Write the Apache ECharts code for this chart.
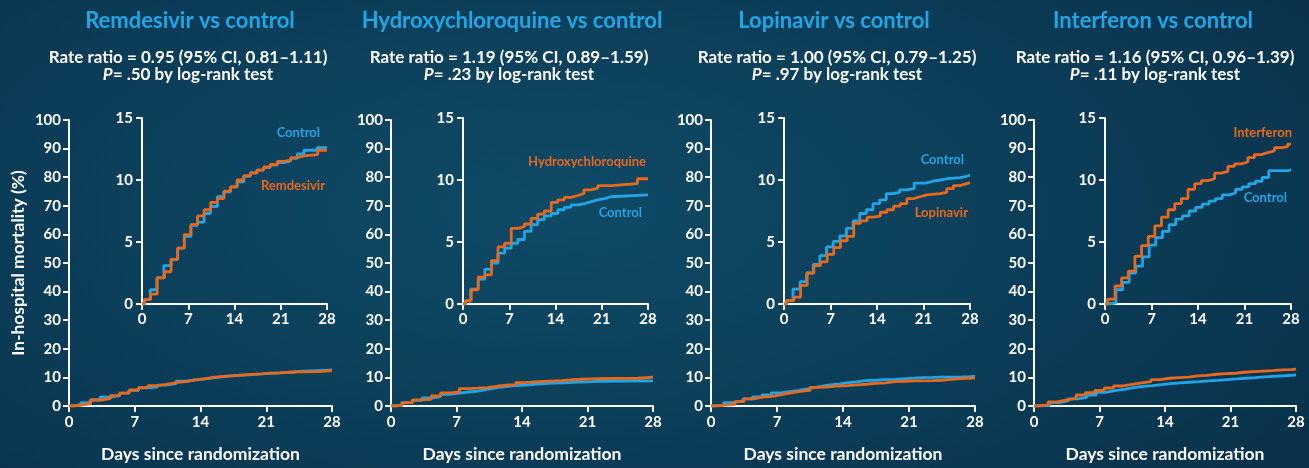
<!DOCTYPE html>
<html>
<head>
<meta charset="utf-8">
<script src="https://cdn.jsdelivr.net/npm/echarts@6/dist/echarts.min.js"></script>
<style>
html,body{margin:0;padding:0;width:1309px;height:468px;overflow:hidden;
background:radial-gradient(ellipse 75% 95% at 42% 45%, #0f4a66 0%, #0c3f5a 45%, #08304a 100%);}
#c{width:1309px;height:468px;}
</style>
</head>
<body>
<div id="c"></div>
<script>
// ---------- data ----------
const panelTitles = ['Remdesivir vs control','Hydroxychloroquine vs control','Lopinavir vs control','Interferon vs control'];
const rateRatios = ['Rate ratio = 0.95 (95% CI, 0.81\u20131.11)','Rate ratio = 1.19 (95% CI, 0.89\u20131.59)','Rate ratio = 1.00 (95% CI, 0.79\u20131.25)','Rate ratio = 1.16 (95% CI, 0.96\u20131.39)'];
const pValues = ['.50','.23','.97','.11'];
const drugNames = ['Remdesivir','Hydroxychloroquine','Lopinavir','Interferon'];
const xTicks = [0,7,14,21,28];

// Remdesivir
const remDrugDays = [0,0.35,1.3,2.3,3.4,4.4,5.4,6.4,7.4,8.4,9.4,10.4,11.4,12.4,13.4,14.4,15.4,16.4,17.4,18.4,19.4,20.5,21.5,22.5,23.5,24.5,26.6,28];
const remDrugPct  = [0,0.35,0.8,2.1,2.6,3.6,4.5,5.6,6.4,7.1,7.6,8.2,8.5,9.1,9.45,10.0,10.35,10.55,10.8,11.05,11.25,11.5,11.6,11.8,11.95,12.05,12.4,12.4];
const remCtrlDays = [0,0.35,1.25,2.25,3.3,4.4,5.4,6.4,7.4,8.4,9.4,10.35,11.4,12.4,13.4,14.4,15.4,16.4,17.4,18.4,19.4,20.5,21.5,22.5,23.5,24.5,26.5,28];
const remCtrlPct  = [0,0.35,1.15,2.1,3.1,3.6,4.5,5.45,6.35,6.6,7.3,7.85,8.65,9.05,9.45,9.85,10.3,10.6,10.8,11.0,11.2,11.4,11.55,11.75,12.1,12.4,12.6,12.6];

// Hydroxychloroquine
const hcqDrugDays = [0,0.4,1.25,2.3,3.3,4.3,5.3,6.3,7.3,8.4,9.3,10.3,11.3,12.3,13.35,14.35,15.35,16.35,17.35,18.3,19.4,20.4,22.4,26.4,28];
const hcqDrugPct  = [0,0.27,1.15,2.17,2.35,3.5,4.6,4.9,6.1,6.25,6.45,6.9,7.25,7.5,8.2,8.4,8.6,8.75,8.9,9.2,9.35,9.55,9.7,10.1,10.1];
const hcqCtrlDays = [0,0.4,1.15,2.3,3.3,4.3,5.3,6.3,7.3,8.3,9.3,10.3,11.3,12.3,13.35,14.35,15.35,16.35,17.35,18.4,19.4,20.4,21.4,22.4,28];
const hcqCtrlPct  = [0,0.25,1.2,2.0,2.8,3.3,4.1,4.5,4.9,5.2,5.85,6.4,6.8,7.1,7.3,7.6,7.8,8.0,8.1,8.25,8.4,8.5,8.65,8.8,8.8];

// Lopinavir
const lopDrugDays = [0,0.4,1.5,2.5,3.5,4.5,5.5,6.5,7.5,8.5,9.5,10.5,11.5,12.5,13.5,14.5,15.5,16.5,17.5,18.5,19.5,20.5,21.5,23.5,24.5,25.5,26.5,27.5,28];
const lopDrugPct  = [0,0.27,0.55,1.5,2.5,3.1,3.4,4.0,4.55,5.1,5.45,6.5,6.7,7.0,7.1,7.4,7.6,7.9,8.1,8.5,8.65,8.8,8.9,9.0,9.3,9.55,9.7,9.8,9.8];
const lopCtrlDays = [0,0.4,1.35,2.4,3.4,4.4,5.4,6.4,7.4,8.4,9.4,10.4,11.4,12.4,13.4,14.4,15.4,16.4,17.4,18.4,19.6,21.4,22.4,23.5,24.5,26.5,27.5,28];
const lopCtrlPct  = [0,0.3,1.2,1.8,2.5,3.2,3.9,4.6,5.05,5.5,6.1,6.7,7.3,7.6,8.1,8.4,8.9,9.0,9.2,9.3,9.75,9.9,10.0,10.1,10.2,10.3,10.4,10.4];

// Interferon
const ifnDrugDays = [0,0.4,1.5,2.5,3.5,4.5,5.5,6.5,7.5,8.5,9.5,10.5,11.5,12.5,13.5,14.5,15.5,16.5,17.5,18.5,19.5,20.5,21.5,22.5,23.5,24.5,25.5,26.5,27.5,28];
const ifnDrugPct  = [0,0.4,1.45,2.1,2.65,3.85,4.7,5.45,6.3,7.0,7.6,8.1,8.5,9.25,9.7,9.95,10.1,10.55,10.7,11.1,11.3,11.45,11.8,12.05,12.2,12.35,12.6,12.7,12.9,12.9];
const ifnCtrlDays = [0,0.5,1.65,2.65,3.65,4.65,5.65,6.65,7.65,8.65,9.65,10.65,11.65,12.65,13.65,14.65,15.65,16.65,17.65,18.65,19.65,20.65,21.65,22.65,23.65,24.65,27.65,28];
const ifnCtrlPct  = [0,0.1,1.15,1.75,2.5,3.05,3.8,4.75,5.35,5.85,6.4,6.85,7.1,7.5,7.8,8.05,8.3,8.5,8.8,8.95,9.25,9.45,9.7,9.9,10.2,10.75,10.85,10.85];

const drugDays = [remDrugDays,hcqDrugDays,lopDrugDays,ifnDrugDays];
const drugPct  = [remDrugPct,hcqDrugPct,lopDrugPct,ifnDrugPct];
const ctrlDays = [remCtrlDays,hcqCtrlDays,lopCtrlDays,ifnCtrlDays];
const ctrlPct  = [remCtrlPct,hcqCtrlPct,lopCtrlPct,ifnCtrlPct];

// ---------- layout / style ----------
const ORANGE = '#e8691e', BLUE = '#22a5e2', TITLE_BLUE = '#1ea6e6', WHITE = '#ffffff';
const FONT = 'Lato, "Open Sans", sans-serif';
const mainGrids  = [{l:69,w:263},{l:391,w:262},{l:711,w:264},{l:1034,w:262}];
const insetGrids = [{l:142,w:185},{l:463,w:185},{l:784,w:186},{l:1105,w:186}];
const titleCx = [190,512,834,1153];
const subCx   = [188,509,837,1155];

const labelPos = [
  [{t:'Control',c:BLUE,x:320,y:133},{t:'Remdesivir',c:ORANGE,x:325,y:186}],
  [{t:'Hydroxychloroquine',c:ORANGE,x:646,y:162},{t:'Control',c:BLUE,x:642,y:213}],
  [{t:'Control',c:BLUE,x:964,y:160},{t:'Lopinavir',c:ORANGE,x:968,y:213}],
  [{t:'Interferon',c:ORANGE,x:1292,y:133},{t:'Control',c:BLUE,x:1287,y:198}]
];

const zip = (a,b) => a.map((d,i)=>[d,b[i]]);

const axisCommon = {
  axisLine:{show:true,lineStyle:{color:WHITE,width:2}},
  axisTick:{show:true,length:6,lineStyle:{color:WHITE,width:2}},
  splitLine:{show:false},
  axisLabel:{color:WHITE,fontWeight:'bold',fontFamily:FONT,fontSize:15}
};

const grid=[], xAxis=[], yAxis=[], series=[], title=[], graphic=[];
for (let p=0;p<4;p++){
  grid.push({left:mainGrids[p].l, top:120, width:mainGrids[p].w, height:293});
  grid.push({left:insetGrids[p].l, top:118, width:insetGrids[p].w, height:186});
  const gm = grid.length-2, gi = grid.length-1;
  xAxis.push(Object.assign({}, axisCommon, {gridIndex:gm,type:'value',min:0,max:28,interval:7,
    axisLabel:Object.assign({},axisCommon.axisLabel,{margin:9}),
    name:'Days since randomization',nameLocation:'middle',nameGap:39,
    nameTextStyle:{color:WHITE,fontWeight:'bold',fontFamily:FONT,fontSize:17.5}}));
  yAxis.push(Object.assign({}, axisCommon, {gridIndex:gm,type:'value',min:0,max:100,interval:10,
    axisLabel:Object.assign({},axisCommon.axisLabel,{margin:8}),
    name: p===0 ? 'In-hospital mortality (%)' : '', nameLocation:'middle', nameGap:42,
    nameTextStyle:{color:WHITE,fontWeight:'bold',fontFamily:FONT,fontSize:17.4}}));
  xAxis.push(Object.assign({}, axisCommon, {gridIndex:gi,type:'value',min:0,max:28,interval:7,
    axisLabel:Object.assign({},axisCommon.axisLabel,{margin:8})}));
  yAxis.push(Object.assign({}, axisCommon, {gridIndex:gi,type:'value',min:0,max:15,interval:5,
    axisLabel:Object.assign({},axisCommon.axisLabel,{margin:9})}));

  const xm = xAxis.length-2, xi = xAxis.length-1;
  const mk = (xIdx, yIdx, data, color, name) => ({
    type:'line', name, xAxisIndex:xIdx, yAxisIndex:yIdx, data, step:'end',
    showSymbol:false, symbol:'none', silent:true, animation:false,
    lineStyle:{color, width:2.8}, z:3
  });
  series.push(mk(xm,xm,zip(ctrlDays[p],ctrlPct[p]),BLUE,'Control'));
  series.push(mk(xm,xm,zip(drugDays[p],drugPct[p]),ORANGE,drugNames[p]));
  series.push(mk(xi,xi,zip(ctrlDays[p],ctrlPct[p]),BLUE,'Control'));
  series.push(mk(xi,xi,zip(drugDays[p],drugPct[p]),ORANGE,drugNames[p]));

  title.push({text:panelTitles[p],left:titleCx[p],top:10,textAlign:'center',padding:0,
    textStyle:{color:TITLE_BLUE,fontWeight:'bold',fontFamily:FONT,fontSize:22}});
  title.push({text:rateRatios[p]+'\n{i|P}= '+pValues[p]+' by log-rank test',left:subCx[p],top:49,textAlign:'center',padding:0,
    textStyle:{color:WHITE,fontWeight:'bold',fontFamily:FONT,fontSize:17,lineHeight:17,
      rich:{i:{fontStyle:'italic',fontWeight:'bold',color:WHITE,fontFamily:FONT,fontSize:17,lineHeight:17}}}});

  labelPos[p].forEach(lb=>{
    graphic.push({type:'text',x:lb.x,y:lb.y,
      style:{text:lb.t,fill:lb.c,font:'bold 13px '+FONT,textAlign:'right',textVerticalAlign:'middle'}});
  });
}

const chart = echarts.init(document.getElementById('c'),null,{renderer:'canvas'});
chart.setOption({backgroundColor:'transparent',animation:false,title,grid,xAxis,yAxis,series,graphic});
</script>
</body>
</html>
